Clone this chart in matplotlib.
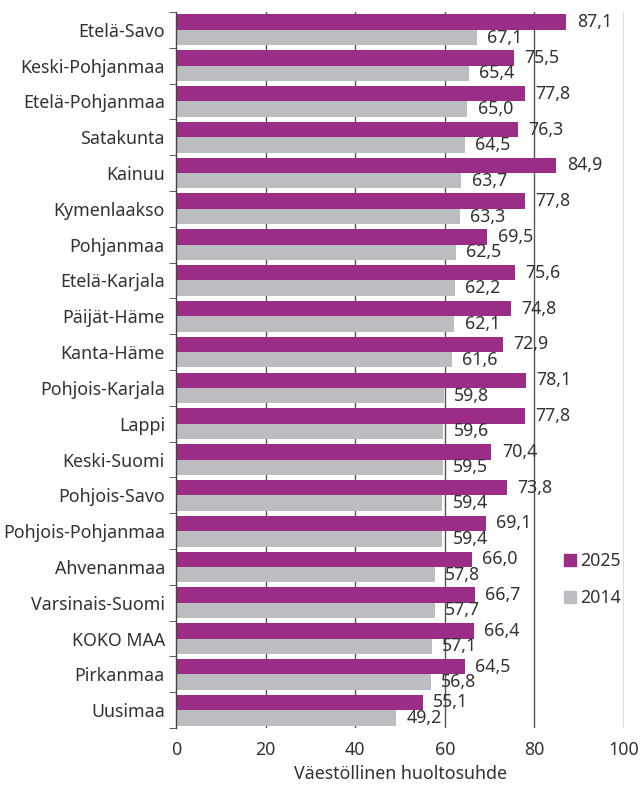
import matplotlib
matplotlib.use("Agg")
import matplotlib.pyplot as plt
from matplotlib.patches import Patch
import numpy as np

regions = ["Etelä-Savo", "Keski-Pohjanmaa", "Etelä-Pohjanmaa", "Satakunta", "Kainuu",
           "Kymenlaakso", "Pohjanmaa", "Etelä-Karjala", "Päijät-Häme", "Kanta-Häme",
           "Pohjois-Karjala", "Lappi", "Keski-Suomi", "Pohjois-Savo", "Pohjois-Pohjanmaa",
           "Ahvenanmaa", "Varsinais-Suomi", "KOKO MAA", "Pirkanmaa", "Uusimaa"]
v2025 = [87.1, 75.5, 77.8, 76.3, 84.9, 77.8, 69.5, 75.6, 74.8, 72.9,
         78.1, 77.8, 70.4, 73.8, 69.1, 66.0, 66.7, 66.4, 64.5, 55.1]
v2014 = [67.1, 65.4, 65.0, 64.5, 63.7, 63.3, 62.5, 62.2, 62.1, 61.6,
         59.8, 59.6, 59.5, 59.4, 59.4, 57.8, 57.7, 57.1, 56.8, 49.2]
xticks = [0, 20, 40, 60, 80, 100]

PURPLE = "#9b2d87"
GRAY = "#bcbdc0"
TXT = "#333333"
FS = 12.8

plt.rcParams["font.family"] = ["Noto Sans", "DejaVu Sans"]
plt.rcParams["font.size"] = FS

fig = plt.figure(figsize=(6.41, 7.88), dpi=100)
ax = fig.add_axes([0.2746, 0.0761, 0.699, 0.9087])

y = np.arange(len(regions))
h = 0.43
off = 0.215
b1 = ax.barh(y - off, v2025, height=h, color=PURPLE, zorder=2)
b2 = ax.barh(y + off, v2014, height=h, color=GRAY, zorder=2)

# value labels, finnish decimal comma
for bars, vals in ((b1, v2025), (b2, v2014)):
    for bar, v in zip(bars, vals):
        ax.annotate(f"{v:.1f}".replace(".", ","),
                    (bar.get_width(), bar.get_y() + bar.get_height() / 2),
                    xytext=(7.5, 0), textcoords="offset points",
                    ha="left", va="center", color=TXT, fontsize=FS, zorder=3)

ax.set_xlim(0, 100)
ax.set_ylim(len(regions) - 0.5, -0.5)
ax.set_xticks(xticks)
ax.set_xticklabels([str(t) for t in xticks], color=TXT, fontsize=FS)
ax.tick_params(axis="x", length=0, pad=9)
ax.set_yticks(y)
ax.set_yticklabels(regions, color=TXT, fontsize=FS)
ax.tick_params(axis="y", which="major", length=0, pad=8)
ax.set_yticks(np.arange(-0.5, len(regions)), minor=True)
ax.tick_params(axis="y", which="minor", length=5, color="#444444", direction="out")

for t in xticks[1:]:
    ax.axvline(t, color="#555555", lw=1, zorder=1)

for s in ("top", "right", "bottom"):
    ax.spines[s].set_visible(False)
ax.spines["left"].set_color("#444444")
ax.spines["left"].set_linewidth(1)

ax.set_xlabel("Väestöllinen huoltosuhde", color=TXT, fontsize=FS, labelpad=5)

handles = [Patch(color=PURPLE, label="2025"), Patch(color=GRAY, label="2014")]
ax.legend(handles=handles, loc="center left", bbox_to_anchor=(0.83, 0.207),
          frameon=False, handlelength=0.7, handleheight=0.7, handletextpad=0.2,
          labelspacing=1.05, fontsize=FS, labelcolor=TXT)

fig.savefig("out.png", dpi=100)
